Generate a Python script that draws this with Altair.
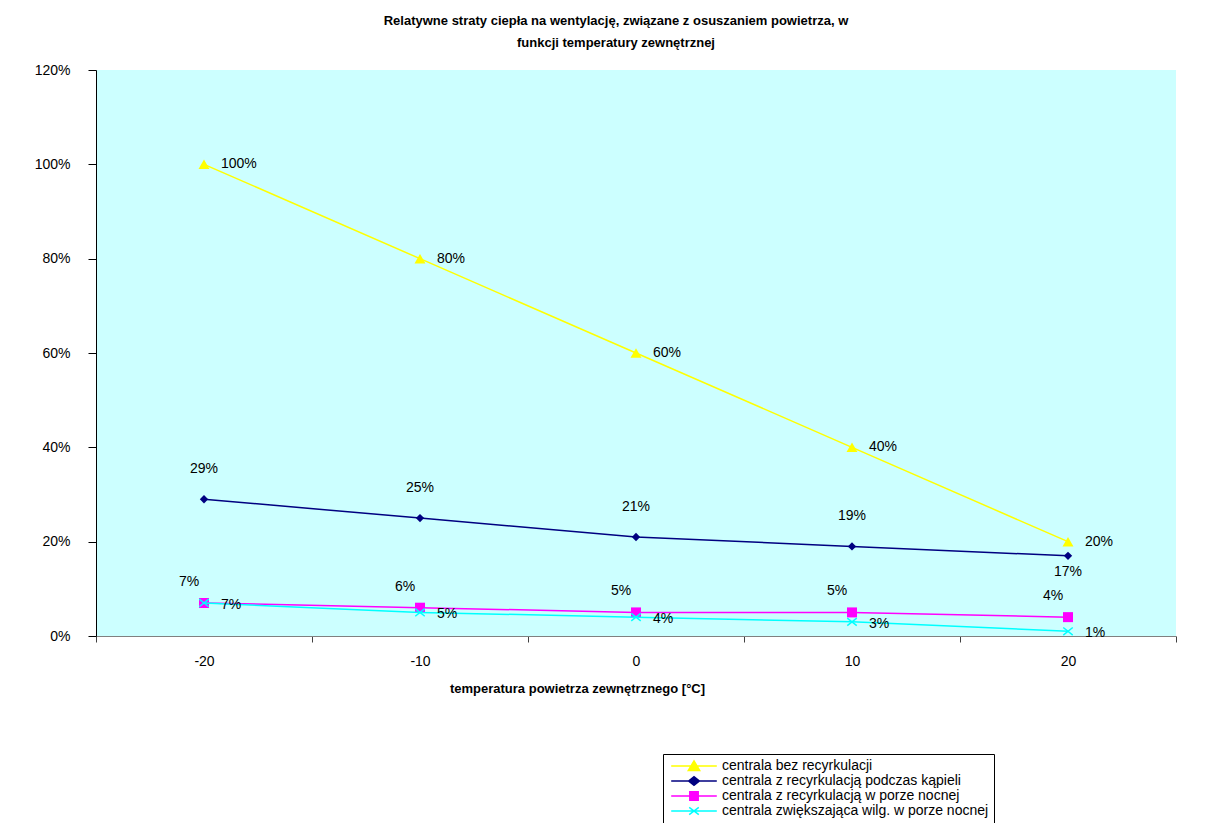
import altair as alt
import pandas as pd

temps = [-20, -10, 0, 10, 20]
series = [
    "centrala bez recyrkulacji",
    "centrala z recyrkulacją podczas kąpieli",
    "centrala z recyrkulacją w porze nocnej",
    "centrala zwiększająca wilg. w porze nocnej",
]
bez = [1.00, 0.80, 0.60, 0.40, 0.20]
kapiel = [0.29, 0.25, 0.21, 0.19, 0.17]
noc = [0.07, 0.06, 0.05, 0.05, 0.04]
wilg = [0.07, 0.05, 0.04, 0.03, 0.01]
colors = ["#FFFF00", "#000080", "#FF00FF", "#00FFFF"]

values = [bez, kapiel, noc, wilg]
rows = []
for s, vals in zip(series, values):
    for t, v in zip(temps, vals):
        rows.append({"temp": t, "value": v, "series": s, "label": f"{round(v * 100)}%"})
df = pd.DataFrame(rows)

FONT = "Liberation Sans"

x_enc = alt.X(
    "temp:O",
    scale=alt.Scale(type="band", domain=temps, paddingInner=0, paddingOuter=0),
    axis=alt.Axis(
        title="temperatura powietrza zewnętrznego [°C]",
        tickBand="extent",
        labelAngle=0,
        domainColor="#808080",
        tickColor="#404040",
        tickSize=6,
        labelFontSize=14,
        labelPadding=12,
        labelFont=FONT,
        labelColor="black",
        titleFont=FONT,
        titleFontSize=13,
        titleFontWeight="bold",
        titleColor="black",
        titlePadding=14,
        titleX=481,
        grid=False,
    ),
)
y_enc = alt.Y(
    "value:Q",
    scale=alt.Scale(domain=[0, 1.2], nice=False),
    axis=alt.Axis(
        values=[0, 0.2, 0.4, 0.6, 0.8, 1.0, 1.2],
        format=".0%",
        title=None,
        tickSize=8,
        labelPadding=18,
        domainColor="black",
        tickColor="black",
        labelFontSize=14,
        labelFont=FONT,
        labelColor="black",
        grid=False,
    ),
)

base = alt.Chart(df).encode(x=x_enc, y=y_enc)

marker_shapes = ["triangle-up", "diamond", "square", "M-1,-0.8L1,0.8M-1,0.8L1,-0.8"]
marker_sizes = [120, 70, 100, 90]
# label style: (dx, dy, align)
label_styles = [(17, 0, "left"), (0, -30, "center"), (-15, -21, "center"), (17, 2, "left")]

layers = []
for i, s in enumerate(series):
    sub = base.transform_filter(alt.FieldEqualPredicate(field="series", equal=s))
    layers.append(sub.mark_line(color=colors[i], strokeWidth=1.5))
    if i == 3:
        layers.append(sub.mark_point(shape=marker_shapes[i], filled=False, stroke=colors[i],
                                     strokeWidth=1.5, size=marker_sizes[i], opacity=1))
    else:
        layers.append(sub.mark_point(shape=marker_shapes[i], filled=True, color=colors[i],
                                     size=marker_sizes[i], opacity=1))
for i, s in enumerate(series):
    sub = base.transform_filter(alt.FieldEqualPredicate(field="series", equal=s))
    dx, dy, align = label_styles[i]
    if i == 1:
        above = sub.transform_filter("datum.temp < 20")
        below = sub.transform_filter("datum.temp == 20")
        layers.append(above.mark_text(dx=dx, dy=dy, align=align, baseline="middle",
                                      fontSize=14, font=FONT, color="black").encode(text="label:N"))
        layers.append(below.mark_text(dx=0, dy=16, align="center", baseline="middle",
                                      fontSize=14, font=FONT, color="black").encode(text="label:N"))
    else:
        layers.append(sub.mark_text(dx=dx, dy=dy, align=align, baseline="middle",
                                    fontSize=14, font=FONT, color="black").encode(text="label:N"))

legend_paths = [
    "M-3.8,0H3.8M0,-0.85L0.95,0.75H-0.95Z",
    "M-3.8,0H3.8M-0.9,0L0,-0.7L0.9,0L0,0.7Z",
    "M-3.8,0H3.8M-0.7,-0.7H0.7V0.7H-0.7Z",
    "M-3.8,0H3.8M-0.8,-0.6L0.8,0.6M-0.8,0.6L0.8,-0.6",
]
leg = alt.Legend(
    title=None,
    orient="none",
    legendX=567,
    legendY=684,
    padding=5,
    strokeColor="black",
    fillColor="white",
    symbolSize=144,
    symbolStrokeWidth=1.5,
    symbolOffset=19,
    labelOffset=21,
    labelFontSize=14,
    labelFont=FONT,
    labelColor="black",
    rowPadding=-2,
    labelLimit=800,
)
legend_layer = alt.Chart(df).transform_filter("false").mark_point(filled=True, opacity=1).encode(
    x=x_enc,
    y=y_enc,
    color=alt.Color("series:N", scale=alt.Scale(domain=series, range=colors), legend=leg),
    stroke=alt.Stroke("series:N", scale=alt.Scale(domain=series, range=colors), legend=leg),
    shape=alt.Shape("series:N", scale=alt.Scale(domain=series, range=legend_paths), legend=leg),
)
layers.append(legend_layer)

chart = alt.layer(*layers).properties(
    width=1080,
    height=566,
    padding={"left": 88, "top": 62, "right": 47, "bottom": 187},
    autosize=alt.AutoSizeParams(type="none"),
    title=alt.TitleParams(
        text=["Relatywne straty ciepła na wentylację, związane z osuszaniem powietrza, w",
              "funkcji temperatury zewnętrznej"],
        font=FONT,
        fontSize=13,
        fontWeight="bold",
        color="black",
        anchor="middle",
        baseline="bottom",
        dx=-20,
        offset=0,
        lineHeight=22,
    ),
).configure(font=FONT).configure_view(fill="#CCFFFF", stroke=None)

chart.save("out.html", embed_options={"renderer": "svg", "actions": False})
